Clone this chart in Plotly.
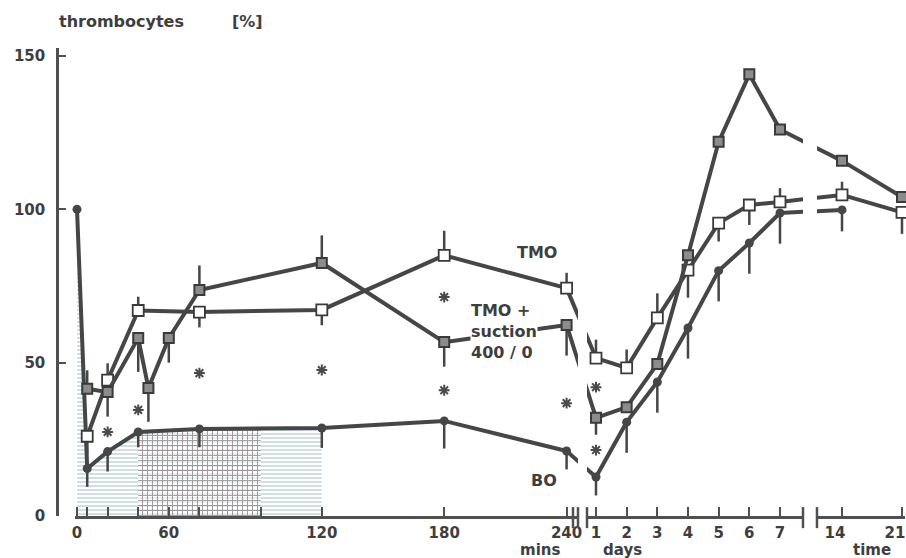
import plotly.graph_objects as go

# ---- data ----
# minutes section
bo_mins = [0, 5, 15, 30, 60, 120, 180, 240]
bo_mins_val = [100, 15.5, 21, 27.4, 28.4, 28.7, 31, 21.2]
bo_mins_dn = [0, 6, 6.5, 5, 6, 6.5, 9, 6]

tmo_mins = [5, 15, 30, 60, 120, 180, 240]
tmo_mins_val = [26, 44.3, 67, 66.5, 67.2, 85, 74.3]
tmo_mins_up = [0, 5.5, 4.5, 0, 0, 8, 5]
tmo_mins_dn = [5.5, 0, 0, 5, 5, 0, 0]

suc_mins = [5, 15, 30, 35, 45, 60, 120, 180, 240]
suc_mins_val = [41.5, 40.4, 58, 41.7, 58, 73.7, 82.5, 56.7, 62.3]
suc_mins_up = [6, 0, 0, 0, 0, 8, 9, 0, 0]
suc_mins_dn = [0, 8, 11, 11, 8, 0, 0, 8, 10]

# days section
days = [1, 2, 3, 4, 5, 6, 7]
bo_days_val = [12.7, 30.6, 43.7, 61.3, 80, 89, 98.8]
bo_days_dn = [6, 10, 10, 10, 10, 10, 10]
tmo_days_val = [51.5, 48.3, 64.6, 80.2, 95.5, 101.4, 102.4]
tmo_days_up = [6, 6, 8, 0, 0, 0, 4.5]
tmo_days_dn = [0, 0, 0, 9, 6, 6.5, 0]
suc_days_val = [32, 35.5, 49.6, 85, 122, 144, 126]
suc_days_dn = [5.5, 0, 0, 0, 0, 0, 0]

# late time section
bo_late = [14]
bo_late_val = [99.8]
bo_late_dn = [7]
late = [14, 21]
tmo_late_val = [104.7, 99]
tmo_late_up = [4.3, 0]
tmo_late_dn = [0, 7]
suc_late_val = [115.8, 104]

# significance stars
star_mins = [15, 30, 60, 120, 180, 180, 240]
star_mins_val = [27.4, 34.6, 46.6, 47.6, 71.4, 41, 36.8]
star_days = [1, 1]
star_days_val = [42, 21.5]

# shaded periods
shade_mins = [0, 5, 15, 30, 60, 120]
shade_top = [100, 15.5, 21, 27.4, 28.4, 28.7]
cross_mins = [30, 60, 90]
cross_top = [27.4, 28.4, 28.5]

mins_ticks = [0, 5, 15, 30, 45, 60, 90, 120, 180, 240]
mins_text = ["0", "", "", "", "60", "", "", "120", "180", "240"]

# ---- axis geometry (broken time axis) ----
MINS_DOM, MINS_RNG = [0.0212, 0.6144], [-1, 245.6]
DAYS_DOM, DAYS_RNG = [0.625, 0.8797], [0.707, 7.75]
LATE_DOM, LATE_RNG = [0.8962, 1.0], [11.08, 21.35]
AXES = {"x": (MINS_DOM, MINS_RNG), "x2": (DAYS_DOM, DAYS_RNG), "x3": (LATE_DOM, LATE_RNG)}

LINE = "#464646"
AXC = "#505050"
TXT = "#3e3e3e"
FONT = "DejaVu Sans"


def to_paper(ax, v):
    dom, rng = AXES[ax]
    return dom[0] + (v - rng[0]) / (rng[1] - rng[0]) * (dom[1] - dom[0])


def from_paper(ax, f):
    dom, rng = AXES[ax]
    return rng[0] + (f - dom[0]) / (dom[1] - dom[0]) * (rng[1] - rng[0])


def series(x, y, xa, marker, up=None, dn=None):
    n = len(x)
    return go.Scatter(
        x=x, y=y, xaxis=xa, yaxis="y", mode="lines+markers",
        line=dict(color=LINE, width=4), marker=marker,
        error_y=dict(type="data", symmetric=False, array=up or [0] * n,
                     arrayminus=dn or [0] * n, thickness=2.5, width=0, color=LINE),
        cliponaxis=False, showlegend=False, hoverinfo="skip")


def bridge(ax1, xa, ya, ax2, xb, yb):
    # line across an axis break, clipped by each subplot so the gap shows
    xb_in1 = from_paper(ax1, to_paper(ax2, xb))
    xa_in2 = from_paper(ax2, to_paper(ax1, xa))
    return [
        go.Scatter(x=[xa, xb_in1], y=[ya, yb], xaxis=ax1, yaxis="y", mode="lines",
                   line=dict(color=LINE, width=4), showlegend=False, hoverinfo="skip"),
        go.Scatter(x=[xa_in2, xb], y=[ya, yb], xaxis=ax2, yaxis="y", mode="lines",
                   line=dict(color=LINE, width=4), showlegend=False, hoverinfo="skip"),
    ]


fig = go.Figure()

# hatched periods under BO curve
fig.add_trace(go.Scatter(x=shade_mins, y=shade_top, xaxis="x", yaxis="y", mode="none",
                         fill="tozeroy",
                         fillpattern=dict(shape="-", fgcolor="#97b8c8", bgcolor="white",
                                          size=4, solidity=0.45),
                         showlegend=False, hoverinfo="skip"))
fig.add_trace(go.Scatter(x=cross_mins, y=cross_top, xaxis="x", yaxis="y", mode="none",
                         fill="tozeroy",
                         fillpattern=dict(shape="+", fgcolor="#4a3838",
                                          bgcolor="rgba(255,255,255,0.5)",
                                          size=5, solidity=0.35),
                         showlegend=False, hoverinfo="skip"))

bo_m = dict(symbol="circle", size=9, color=LINE)
tmo_m = dict(symbol="square", size=11, color="white", line=dict(color="#3a3a3a", width=1.8))
suc_m = dict(symbol="square", size=10, color="#8c8c8c", line=dict(color="#3a3a3a", width=2))

# bridges across breaks
for mv, dv, lv in [
    (bo_mins_val, bo_days_val, bo_late_val),
    (tmo_mins_val, tmo_days_val, tmo_late_val),
    (suc_mins_val, suc_days_val, suc_late_val),
]:
    for t in bridge("x", 240, mv[-1], "x2", days[0], dv[0]):
        fig.add_trace(t)
    for t in bridge("x2", days[-1], dv[-1], "x3", late[0], lv[0]):
        fig.add_trace(t)

# BO
fig.add_trace(series(bo_mins, bo_mins_val, "x", bo_m, dn=bo_mins_dn))
fig.add_trace(series(days, bo_days_val, "x2", bo_m, dn=bo_days_dn))
fig.add_trace(series(bo_late, bo_late_val, "x3", bo_m, dn=bo_late_dn))
# TMO
fig.add_trace(series(tmo_mins, tmo_mins_val, "x", tmo_m, tmo_mins_up, tmo_mins_dn))
fig.add_trace(series(days, tmo_days_val, "x2", tmo_m, tmo_days_up, tmo_days_dn))
fig.add_trace(series(late, tmo_late_val, "x3", tmo_m, tmo_late_up, tmo_late_dn))
# TMO + suction
fig.add_trace(series(suc_mins, suc_mins_val, "x", suc_m, suc_mins_up, suc_mins_dn))
fig.add_trace(series(days, suc_days_val, "x2", suc_m, dn=suc_days_dn))
fig.add_trace(series(late, suc_late_val, "x3", suc_m))

# stars
star = dict(symbol="asterisk-open", size=9, color="#4a4a4a",
            line=dict(color="#4a4a4a", width=2))
fig.add_trace(go.Scatter(x=star_mins, y=star_mins_val, xaxis="x", yaxis="y", mode="markers",
                         marker=star, showlegend=False, hoverinfo="skip"))
fig.add_trace(go.Scatter(x=star_days, y=star_days_val, xaxis="x2", yaxis="y", mode="markers",
                         marker=star, showlegend=False, hoverinfo="skip"))

tickfont = dict(family=FONT, size=15, color=TXT, weight="bold")
xcommon = dict(showline=True, linecolor=AXC, linewidth=2.5, ticks="inside", ticklen=9,
               tickwidth=2, tickcolor=AXC, showgrid=False, zeroline=False, anchor="y",
               tickfont=tickfont, fixedrange=True, automargin=False,
               ticklabelstandoff=1, ticklabeloverflow="allow")

fig.update_layout(
    width=906, height=558,
    margin=dict(l=57, r=1, t=48, b=42, autoexpand=False),
    paper_bgcolor="white", plot_bgcolor="white",
    xaxis=dict(domain=MINS_DOM, range=MINS_RNG, tickmode="array",
               tickvals=mins_ticks, ticktext=mins_text, **xcommon),
    xaxis2=dict(domain=DAYS_DOM, range=DAYS_RNG, tickmode="array",
                tickvals=days, ticktext=[str(d) for d in days], **xcommon),
    xaxis3=dict(domain=LATE_DOM, range=LATE_RNG, tickmode="array",
                tickvals=late, ticktext=[str(d) for d in late],
                ticklabelshift=-7, **xcommon),
    yaxis=dict(range=[0, 152.6], anchor="free", position=0, tickmode="array",
               tickvals=[0, 50, 100, 150], ticks="inside", ticklen=7, tickwidth=2,
               tickcolor=AXC, showline=True, linecolor=AXC, linewidth=2.5,
               showgrid=False, zeroline=False, tickfont=tickfont,
               ticklabelstandoff=8, fixedrange=True, automargin=False),
)

# break marks on the time axis
brk = dict(type="line", xref="paper", yref="paper", y0=-0.026, y1=0.019,
           line=dict(color=AXC, width=2.5))
for xp in [0.6085, MINS_DOM[1], DAYS_DOM[0], DAYS_DOM[1], LATE_DOM[0]]:
    fig.add_shape(x0=xp, x1=xp, **brk)

lab = dict(family=FONT, size=16, color=TXT, weight="bold")
fig.add_annotation(x=0, y=1.0556, xref="paper", yref="paper", xanchor="left",
                   yanchor="middle", text="thrombocytes", showarrow=False, font=lab)
fig.add_annotation(x=0.204, y=1.0556, xref="paper", yref="paper", xanchor="left",
                   yanchor="middle", text="[%]", showarrow=False, font=lab)
fig.add_annotation(x=225.5, y=86, xref="x", yref="y", text="TMO", showarrow=False, font=lab)
fig.add_annotation(x=229, y=11.7, xref="x", yref="y", text="BO", showarrow=False, font=lab)
fig.add_annotation(x=192.6, y=60.3, xref="x", yref="y", xanchor="left", align="left",
                   text="TMO +<br>suction<br>400 / 0", showarrow=False, font=lab,
                   bgcolor="white", borderpad=0)
for txt, xp in [("mins", 0.570), ("days", 0.667), ("time", 0.961)]:
    fig.add_annotation(x=xp, y=-0.072, xref="paper", yref="paper", text=txt,
                       showarrow=False, xanchor="center", yanchor="middle",
                       font=dict(family=FONT, size=15, color=TXT, weight="bold"))

# drop the default page margin so the figure fills the window exactly
fig.write_html("out.html", config={"displayModeBar": False},
               post_script="document.body.style.margin='0';")
